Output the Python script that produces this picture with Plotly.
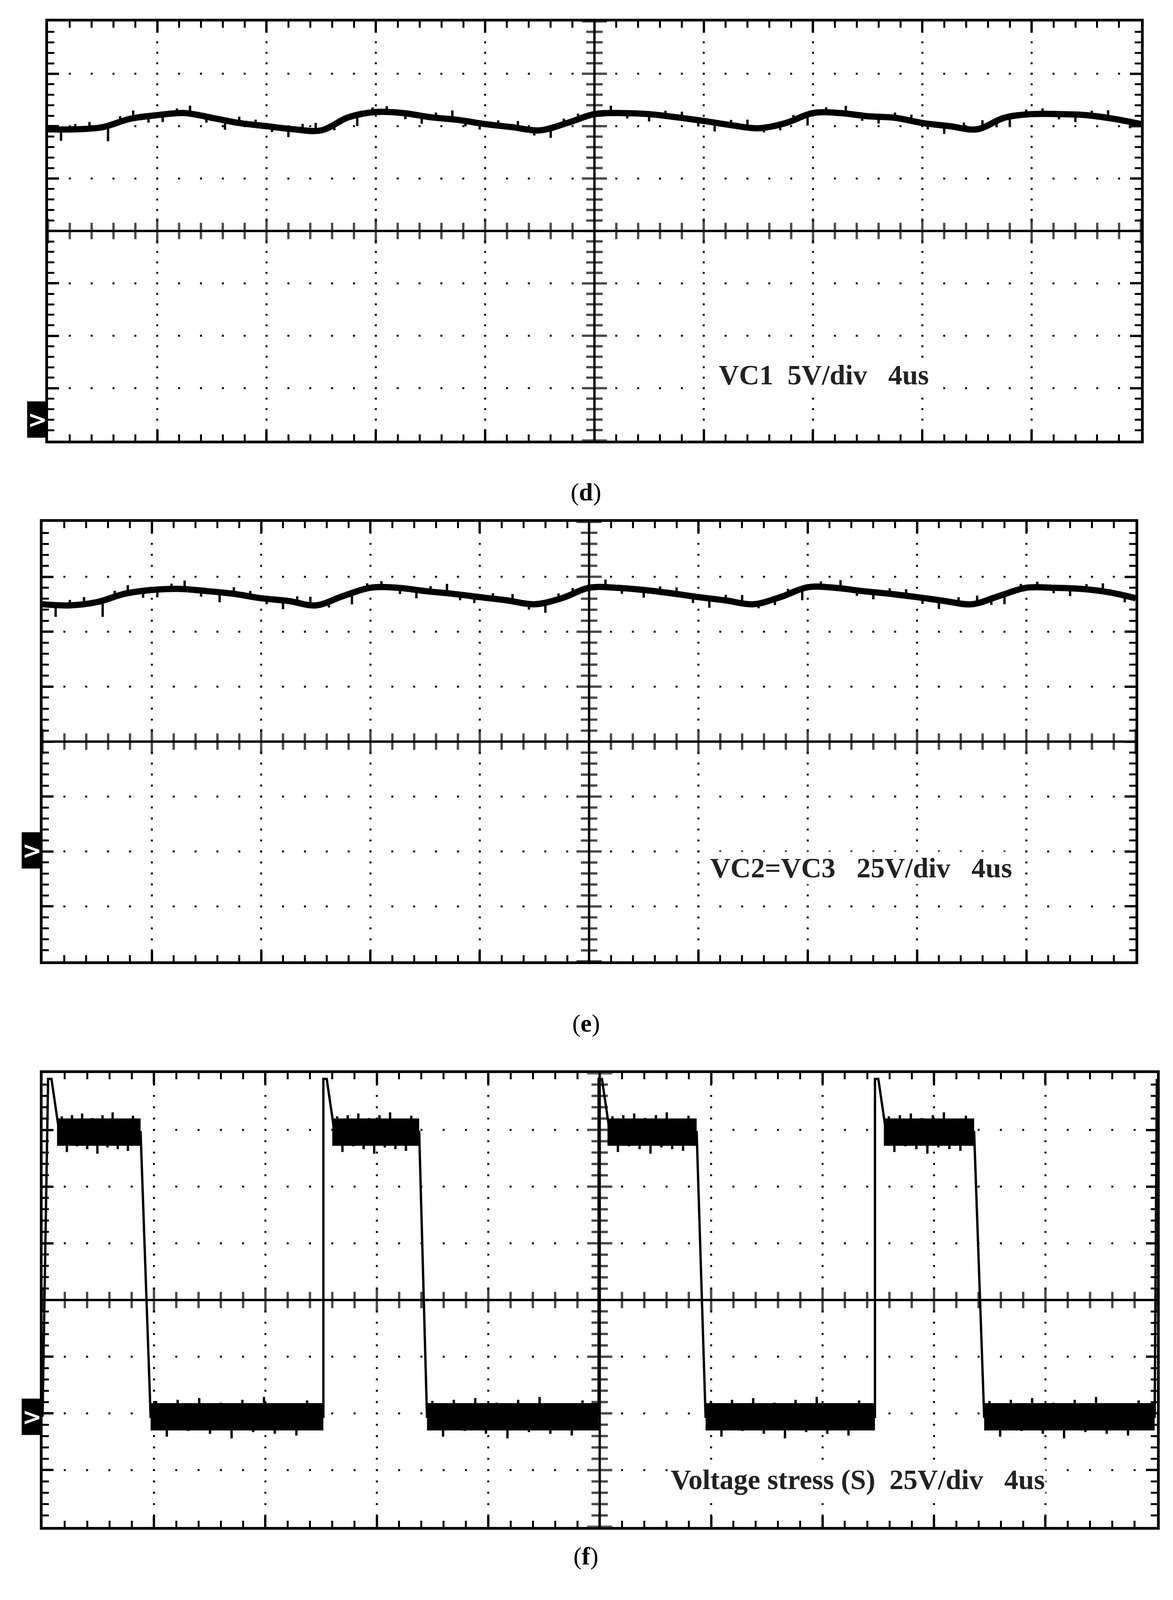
import numpy as np
import plotly.graph_objects as go

# trace readings in screen divisions (10 x 8 grid, centre = 0)
grid_x = [i * 0.25 for i in range(41)]
vc1 = [1.94, 1.94, 1.98, 2.14, 2.21, 2.25, 2.16, 2.06, 2.0, 1.94, 1.92, 2.17, 2.27, 2.25,
       2.17, 2.12, 2.04, 1.98, 1.92, 2.06, 2.23, 2.25, 2.23, 2.17, 2.1, 2.02, 1.96, 2.06,
       2.25, 2.25, 2.19, 2.16, 2.06, 2.0, 1.94, 2.16, 2.23, 2.23, 2.21, 2.14, 2.04]
vc2 = [2.5, 2.48, 2.54, 2.69, 2.76, 2.78, 2.74, 2.69, 2.61, 2.56, 2.48, 2.65, 2.8, 2.8,
       2.74, 2.69, 2.63, 2.57, 2.5, 2.61, 2.8, 2.8, 2.76, 2.7, 2.63, 2.57, 2.5, 2.63,
       2.81, 2.8, 2.74, 2.69, 2.63, 2.56, 2.5, 2.65, 2.8, 2.8, 2.78, 2.72, 2.61]

# noise spikes seen on the flat traces (position, excursion in div)
spike_x = [0.12, 0.25, 0.38, 0.55, 0.66, 0.78, 0.92, 1.05, 1.18, 1.3, 1.45, 1.62, 1.75, 1.9,
           2.05, 2.2, 2.33, 2.45, 2.62, 2.83, 2.97, 3.1, 3.27, 3.42, 3.55, 3.7, 3.82, 3.95,
           4.12, 4.3, 4.45, 4.6, 4.72, 4.85, 5.15, 5.3, 5.5, 5.65, 5.8, 5.95, 6.1, 6.25,
           6.4, 6.55, 6.7, 6.82, 6.95, 7.12, 7.3, 7.45, 7.6, 7.75, 7.9, 8.05, 8.2, 8.38,
           8.55, 8.68, 8.8, 8.95, 9.1, 9.25, 9.4, 9.55, 9.7, 9.9]
spike_d = [-0.22, 0.1, 0.12, -0.3, 0.11, 0.15, -0.12, -0.14, 0.1, 0.16, -0.11, -0.18, 0.12,
           0.1, -0.1, -0.16, 0.11, 0.14, -0.12, -0.2, 0.1, 0.12, -0.11, -0.15, 0.1, 0.17,
           -0.1, -0.12, 0.1, 0.13, -0.11, -0.2, 0.1, 0.11, 0.15, -0.1, -0.14, 0.1, 0.12,
           -0.12, -0.17, 0.1, 0.14, -0.1, -0.12, 0.1, -0.2, 0.11, 0.15, -0.1, -0.13, 0.1,
           0.12, -0.11, -0.16, 0.1, 0.13, -0.12, -0.18, 0.1, 0.11, -0.1, -0.14, 0.1, 0.15,
           -0.12]

# switch voltage stress: edge times and levels
rise_x = [0.05, 2.52, 4.99, 7.47]
fall_x = [0.88, 3.38, 5.87, 8.36]
fall_end_x = [0.97, 3.45, 5.95, 8.45]
v_high = 2.96
v_low = -2.06
v_peak = 3.9
burst_d = [0.28, -0.35, 0.3, -0.25, 0.33, -0.3, 0.25, -0.38, 0.3, -0.27, 0.35, -0.3,
           0.22, -0.33, 0.29, -0.24]

markers = [-3.6, -1.98, -2.06]
labels = ["VC1  5V/div   4us", "VC2=VC3   25V/div   4us", "Voltage stress (S)  25V/div   4us"]
label_pos = [(6.13, -2.75), (6.1, -2.3), (5.63, -3.17)]
captions = ["d", "e", "f"]

domains_x = [(0.0382, 0.970), (0.0336, 0.9655), (0.0336, 0.9836)]
domains_y = [(0.7266, 0.9886), (0.4011, 0.6758), (0.0477, 0.3312)]
caption_y = [0.7037, 0.3624, 0.0203]

fig = go.Figure()
minor = [round(k * 0.2, 1) for k in range(51)]
minor_y = [round(-4 + k * 0.2, 1) for k in range(41)]


def spikes(xs, base, ds):
    sx, sy = [], []
    for x, b, d in zip(xs, base, ds):
        sx += [x, x, None]
        sy += [b, b + d, None]
    return sx, sy


for p in range(3):
    xa = "x" if p == 0 else f"x{p+1}"
    ya = "y" if p == 0 else f"y{p+1}"
    # dotted grid
    gx, gy = [], []
    for i in range(1, 10):
        if i == 5:
            continue
        for v in minor_y:
            gx.append(i); gy.append(v)
    for j in range(-3, 4):
        if j == 0:
            continue
        for v in minor:
            gx.append(v); gy.append(j)
    fig.add_trace(go.Scatter(x=gx, y=gy, mode="markers", xaxis=xa, yaxis=ya,
                             marker=dict(symbol="square", size=5, color="black"),
                             showlegend=False, hoverinfo="skip"))
    # centre-line ticks
    fig.add_trace(go.Scatter(x=minor, y=[0] * len(minor), mode="markers", xaxis=xa, yaxis=ya,
                             marker=dict(symbol="line-ns", size=[46 if abs(v - round(v)) < 1e-6 else 30 for v in minor],
                                         line=dict(width=6, color="black")),
                             showlegend=False, hoverinfo="skip"))
    fig.add_trace(go.Scatter(x=[5] * len(minor_y), y=minor_y, mode="markers", xaxis=xa, yaxis=ya,
                             marker=dict(symbol="line-ew", size=[46 if abs(v - round(v)) < 1e-6 else 30 for v in minor_y],
                                         line=dict(width=6, color="black")),
                             showlegend=False, hoverinfo="skip"))
    fig.add_shape(type="line", xref=xa, yref=ya, x0=0, x1=10, y0=0, y1=0,
                  line=dict(color="black", width=6))
    fig.add_shape(type="line", xref=xa, yref=ya, x0=5, x1=5, y0=-4, y1=4,
                  line=dict(color="black", width=6))

    if p < 2:
        vals = vc1 if p == 0 else vc2
        fig.add_trace(go.Scatter(x=grid_x, y=vals, mode="lines", xaxis=xa, yaxis=ya,
                                 line=dict(color="black", width=16, shape="spline"),
                                 showlegend=False))
        base = np.interp(spike_x, grid_x, vals)
        sx, sy = spikes(spike_x, base, spike_d)
        fig.add_trace(go.Scatter(x=sx, y=sy, mode="lines", xaxis=xa, yaxis=ya,
                                 line=dict(color="black", width=6), showlegend=False))
    else:
        sx, sy = [0.0], [v_low]
        for k in range(4):
            sx += [rise_x[k], rise_x[k] + 0.03, rise_x[k] + 0.1, fall_x[k], fall_end_x[k]]
            sy += [v_peak, v_peak, v_high, v_high, v_low]
            nxt = rise_x[k + 1] if k < 3 else 9.98
            sx.append(nxt); sy.append(v_low)
        sx.append(10.0); sy.append(v_peak)
        fig.add_trace(go.Scatter(x=sx, y=sy, mode="lines", xaxis=xa, yaxis=ya,
                                 line=dict(color="black", width=6), showlegend=False))
        bx, by = [], []
        for k in range(4):
            bx += [rise_x[k] + 0.08, fall_x[k], None]
            by += [v_high, v_high, None]
            nxt = rise_x[k + 1] if k < 3 else 9.98
            bx += [fall_end_x[k], nxt, None]
            by += [v_low, v_low, None]
        fig.add_trace(go.Scatter(x=bx, y=by, mode="lines", xaxis=xa, yaxis=ya,
                                 line=dict(color="black", width=70), showlegend=False))
        # noise bursts on the plateaus
        nx, ny = [], []
        for k in range(4):
            nxt = rise_x[k + 1] if k < 3 else 9.98
            for seg0, seg1, lvl in [(rise_x[k] + 0.1, fall_x[k], v_high), (fall_end_x[k], nxt, v_low)]:
                n = len(burst_d)
                for m in range(n):
                    x = seg0 + (seg1 - seg0) * (m + 0.5) / n
                    nx += [x, x, None]
                    ny += [lvl, lvl + burst_d[m], None]
        fig.add_trace(go.Scatter(x=nx, y=ny, mode="lines", xaxis=xa, yaxis=ya,
                                 line=dict(color="black", width=6), showlegend=False))

    fig.add_annotation(xref=xa, yref=ya, x=label_pos[p][0], y=label_pos[p][1], text=f"<b>{labels[p]}</b>",
                       showarrow=False, xanchor="left", bgcolor="white",
                       font=dict(family="Liberation Serif", size=72, color="#222222"))
    fig.add_annotation(xref=xa, yref=ya, x=0, y=markers[p], text="<b>&gt;</b>",
                       showarrow=False, xanchor="right", bgcolor="black", width=50, height=90,
                       font=dict(family="DejaVu Sans", size=60, color="white"))
    fig.add_annotation(xref="paper", yref="paper", x=0.497, y=caption_y[p],
                       text=f"(<b>{captions[p]}</b>)", showarrow=False,
                       font=dict(family="Liberation Serif", size=64, color="black"))

    axis_common = dict(showgrid=False, zeroline=False, showticklabels=False, showline=True,
                       linecolor="black", linewidth=7, mirror="allticks", ticks="inside",
                       ticklen=28, tickwidth=6, tickcolor="black",
                       minor=dict(ticks="inside", ticklen=16, tickwidth=5, tickcolor="black"))
    fig.layout[("xaxis" if p == 0 else f"xaxis{p+1}")] = dict(
        axis_common, domain=domains_x[p], range=[0, 10], tickvals=list(range(11)),
        minor=dict(axis_common["minor"], dtick=0.2, tick0=0), anchor=ya)
    fig.layout[("yaxis" if p == 0 else f"yaxis{p+1}")] = dict(
        axis_common, domain=domains_y[p], range=[-4, 4], tickvals=list(range(-4, 5)),
        minor=dict(axis_common["minor"], dtick=0.2, tick0=0), anchor=xa)

fig.update_layout(autosize=True, margin=dict(l=0, r=0, t=0, b=0),
                  plot_bgcolor="white", paper_bgcolor="white")
fig.write_html("out.html", default_width="100vw", default_height="100vh")
